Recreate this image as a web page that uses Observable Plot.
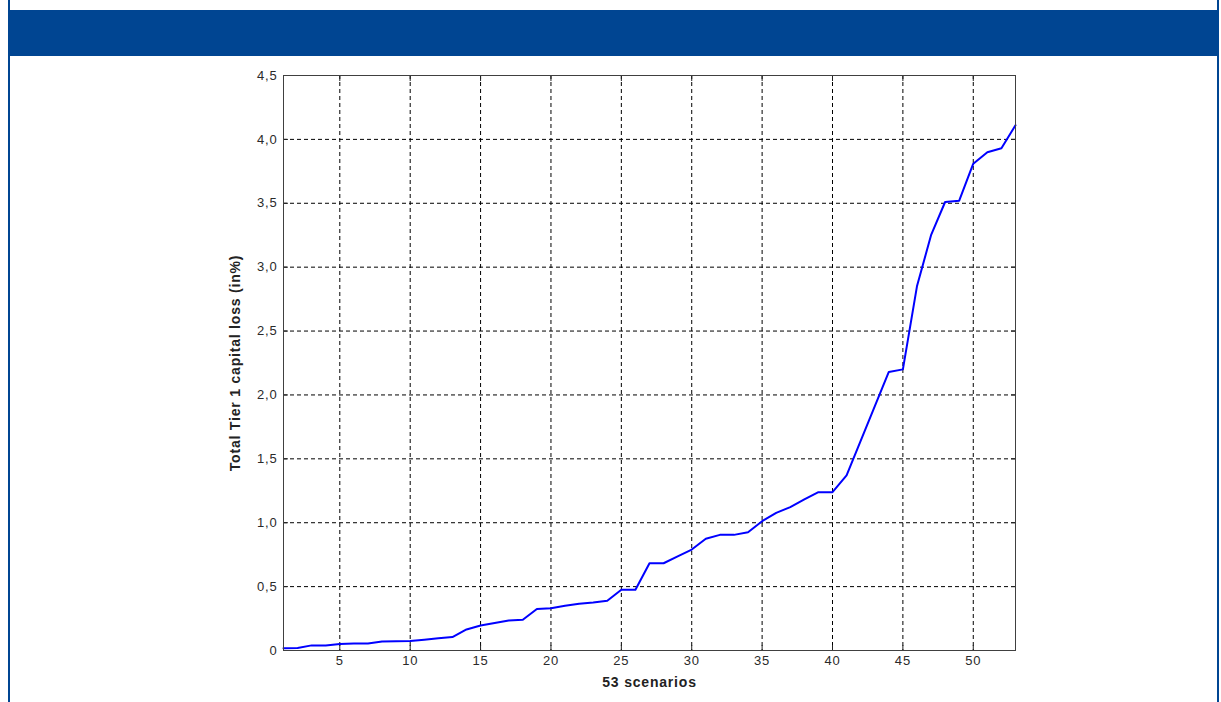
<!DOCTYPE html>
<html><head><meta charset="utf-8">
<script src="https://cdn.jsdelivr.net/npm/d3@7"></script>
<script src="https://cdn.jsdelivr.net/npm/@observablehq/plot@0.6"></script>
<style>
html,body{margin:0;padding:0;background:#fff;width:1221px;height:702px;overflow:hidden}
#box{position:absolute;left:8px;top:0;width:1211px;height:702px;border-left:2px solid #004592;border-right:2px solid #004592;box-sizing:border-box}
#band{position:absolute;left:8px;top:10px;width:1211px;height:46px;background:#004592}
#chart{position:absolute;left:0;top:0}
#chart svg g[aria-label="x-axis tick label"] text,
#chart svg g[aria-label="y-axis tick label"] text{letter-spacing:0.8px}
#chart svg g[aria-label="text"] text{letter-spacing:0.8px}
</style></head><body>
<div id="box"></div>
<div id="band"></div>
<div id="chart"></div>
<script>
const scenarios = [1,2,3,4,5,6,7,8,9,10,11,12,13,14,15,16,17,18,19,20,21,22,23,24,25,26,27,28,29,30,31,32,33,34,35,36,37,38,39,40,41,42,43,44,45,46,47,48,49,50,51,52,53];
const losses = [0.018,0.02,0.04,0.04,0.05,0.055,0.055,0.07,0.072,0.075,0.085,0.095,0.105,0.165,0.195,0.215,0.235,0.24,0.325,0.33,0.35,0.365,0.375,0.39,0.475,0.475,0.683,0.683,0.736,0.79,0.874,0.905,0.905,0.926,1.012,1.077,1.122,1.182,1.239,1.239,1.37,1.64,1.91,2.18,2.20,2.85,3.25,3.51,3.52,3.81,3.90,3.93,4.11];
const xTicks = [5,10,15,20,25,30,35,40,45,50];
const yTicks = [0,0.5,1,1.5,2,2.5,3,3.5,4,4.5];
const xLabel = "53 scenarios";
const yLabel = "Total Tier 1 capital loss (in%)";

const data = scenarios.map((s, i) => ({s, v: losses[i]}));
const fmtY = d => d === 0 ? "0" : d.toFixed(1).replace(".", ",");
const blank = () => "";

const chart = Plot.plot({
  width: 1221,
  height: 702,
  marginLeft: 283,
  marginRight: 206,
  marginTop: 75,
  marginBottom: 52,
  style: {fontFamily: "Arial, 'Liberation Sans', sans-serif", fontSize: "13px", color: "#2a2a2a", background: "transparent"},
  x: {domain: [1, 53]},
  y: {domain: [0, 4.5]},
  marks: [
    Plot.gridX(xTicks, {stroke: "#000", strokeOpacity: 1, strokeDasharray: "4,3"}),
    Plot.gridY(yTicks.slice(1, -1), {stroke: "#000", strokeOpacity: 1, strokeDasharray: "4,3"}),
    Plot.axisX(xTicks, {tickSize: 0, tickPadding: 5, label: null, fontSize: 13}),
    Plot.axisX(xTicks, {tickSize: -5, tickFormat: blank, label: null, stroke: "#222"}),
    Plot.axisX(xTicks, {anchor: "top", tickSize: -5, tickFormat: blank, label: null, stroke: "#222"}),
    Plot.axisY(yTicks, {tickSize: 0, tickPadding: 6, tickFormat: fmtY, label: null, fontSize: 13}),
    Plot.axisY(yTicks, {tickSize: -5, tickFormat: blank, label: null, stroke: "#222"}),
    Plot.axisY(yTicks, {anchor: "right", tickSize: -5, tickFormat: blank, label: null, stroke: "#222"}),
    Plot.line(data, {x: "s", y: "v", stroke: "#0000ff", strokeWidth: 2}),
    Plot.frame({stroke: "#404040", strokeWidth: 1}),
    Plot.text([xLabel], {frameAnchor: "bottom", dy: 36, textAnchor: "middle", fontWeight: "bold", fontSize: 14, fill: "#222"}),
    Plot.text([yLabel], {frameAnchor: "left", dx: -48, rotate: -90, textAnchor: "middle", fontWeight: "bold", fontSize: 14, fill: "#222"})
  ]
});
document.getElementById("chart").appendChild(chart);
</script>
</body></html>
